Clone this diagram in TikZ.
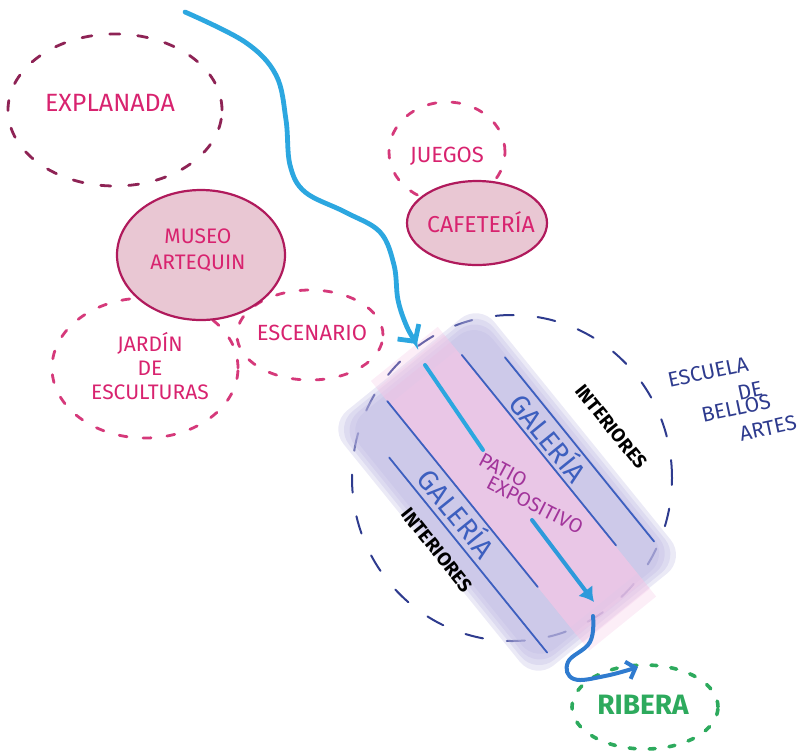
\documentclass[tikz,border=0pt]{standalone}
\usepackage{fontspec}
\setmainfont{Fira Sans}
\usetikzlibrary{shapes.geometric,arrows.meta}
\definecolor{rosa}{HTML}{D8236F}
\definecolor{granate}{HTML}{8E2355}
\definecolor{fucsia}{HTML}{D5397A}
\definecolor{borde}{HTML}{B01A5C}
\definecolor{relleno}{HTML}{E9C7D3}
\definecolor{celeste}{HTML}{2CA7E0}
\definecolor{azul}{HTML}{2F7BCF}
\definecolor{marino}{HTML}{2E3B8E}
\definecolor{galeria}{HTML}{3D5FBF}
\definecolor{lila}{HTML}{BDB8E2}
\definecolor{patio}{HTML}{F4C6E6}
\definecolor{morado}{HTML}{A2359B}
\definecolor{verde}{HTML}{2DAA5D}
\begin{document}
\begin{tikzpicture}[x=0.5pt, y=-0.5pt, line cap=round,
    zona/.style={ellipse, inner sep=0pt, line width=1.4pt, dash pattern=on 5pt off 9pt},
    lleno/.style={ellipse, inner sep=0pt, draw=borde, fill=relleno, line width=1.1pt},
    rotulo/.style={text=rosa, align=center, font=\fontsize{11}{14}\selectfont},
    franja/.style={draw=galeria, line width=0.9pt},
    flujo/.style={draw=celeste, line width=2.4pt}]
  \useasboundingbox (0,0) rectangle (803,752);
  % zonas del parque
  \node[zona, draw=granate, minimum width=107pt, minimum height=76pt] (explanada) at (115,110) {};
  \node[rotulo, font=\fontsize{12.5}{15}\selectfont] (explanadatxt) at (110,103) {EXPLANADA};
  \node[zona, draw=fucsia, dash pattern=on 4pt off 8pt, minimum width=93pt, minimum height=70pt] (jardin) at (145,368) {};
  \node[rotulo, font=\fontsize{10.5}{12}\selectfont] (jardintxt) at (150,366) {JARDÍN\\DE\\ESCULTURAS};
  \node[zona, draw=fucsia, dash pattern=on 4pt off 8pt, minimum width=73pt, minimum height=45pt] (escenario) at (310,335) {};
  \node[rotulo] (escenariotxt) at (312,333) {ESCENARIO};
  \node[lleno, minimum width=84pt, minimum height=65pt] (museo) at (201,255) {};
  \node[rotulo, font=\fontsize{10.5}{13}\selectfont] (museotxt) at (198,250) {MUSEO\\ARTEQUIN};
  \node[zona, draw=fucsia, dash pattern=on 4pt off 8pt, minimum width=58pt, minimum height=50pt] (juegos) at (447,152) {};
  \node[rotulo] (juegostxt) at (447,156) {JUEGOS};
  \node[lleno, minimum width=70pt, minimum height=42pt] (cafeteria) at (477,223) {};
  \node[rotulo, font=\fontsize{11.5}{14}\selectfont] (cafeteriatxt) at (481,222) {CAFETERÍA};
  % escuela
  \node[zona, draw=marino, line width=1pt, dash pattern=on 9pt off 12pt, minimum width=160pt, minimum height=163pt] (escuela) at (512,478) {};
  \begin{scope}[shift={(500,472)}, rotate=-51]
    \foreach \e in {12,8,4,0}
      \fill[lila, opacity=0.3, rounded corners=12pt] (-132-\e,-78-\e) rectangle (172+\e,92+\e);
    \foreach \e in {30,20,10,0}
      \fill[patio, opacity=0.3] (-122-\e,-43) rectangle (165+\e,43);
    \draw[franja] (-81,77) -- (170,77);
    \draw[franja] (-126,43) -- (113,43);
    \draw[franja] (-115,-44) -- (130,-44);
    \draw[franja] (-86,-76) -- (151,-76);
    \node[transform shape, text=galeria, font=\fontsize{14}{16}\selectfont] (galeriaA) at (4,-61) {GALERÍA};
    \node[transform shape, text=galeria, font=\fontsize{14}{16}\selectfont] (galeriaB) at (5,58) {GALERÍA};
    \node[transform shape, font=\bfseries\fontsize{9.5}{11}\selectfont] (interiorA) at (35,-115) {INTERIORES};
    \node[transform shape, font=\bfseries\fontsize{9.5}{11}\selectfont] (interiorB) at (21,98) {INTERIORES};
  \end{scope}
  \node[text=morado, rotate=-28, font=\fontsize{10}{12}\selectfont] (patiotxt) at (503,470) {PATIO};
  \node[text=morado, rotate=-27, font=\fontsize{10}{12}\selectfont] (expositivo) at (535,505) {EXPOSITIVO};
  \foreach \t/\p in {ESCUELA/{(708,372)}, DE/{(750,391)}, BELLOS/{(736,408)}, ARTES/{(768,428)}}
    \node[text=marino, rotate=12, inner sep=1pt, font=\fontsize{10.5}{12}\selectfont] (esc\t) at \p {\t};
  % ribera
  \node[zona, draw=verde, line width=1.8pt, dash pattern=on 3pt off 7pt, minimum width=73pt, minimum height=42pt] (ribera) at (645,707) {};
  \node[text=verde, font=\bfseries\fontsize{14}{16}\selectfont] (riberatxt) at (643,705) {RIBERA};
  % recorrido
  \coordinate (inicio) at (185,12);
  \coordinate (entrada) at (417,344);
  \coordinate (patioA) at (425,365);
  \coordinate (patioB) at (483,450);
  \coordinate (patioC) at (532,520);
  \coordinate (salida) at (594,602);
  \coordinate (bajada) at (593,616);
  \coordinate (llegada) at (638,667);
  \draw[flujo, -{Straight Barb[length=6pt,width=13pt]}] plot[smooth, tension=0.6] coordinates
    {(inicio) (245,42) (276,75) (286,120) (290,165) (305,192) (345,212) (380,232) (394,265) (398,300) (407,327) (entrada)};
  \draw[flujo, line width=2pt] (patioA) -- (patioB);
  \draw[flujo, line width=2pt, draw=celeste!70!azul, -{Latex[length=7pt,width=9pt]}] (patioC) -- (salida);
  \draw[flujo, line width=2pt, draw=azul, -{Straight Barb[length=4pt,width=9pt]}] plot[smooth, tension=0.7] coordinates
    {(bajada) (590,642) (568,662) (574,679) (605,676) (llegada)};
\end{tikzpicture}
\end{document}
